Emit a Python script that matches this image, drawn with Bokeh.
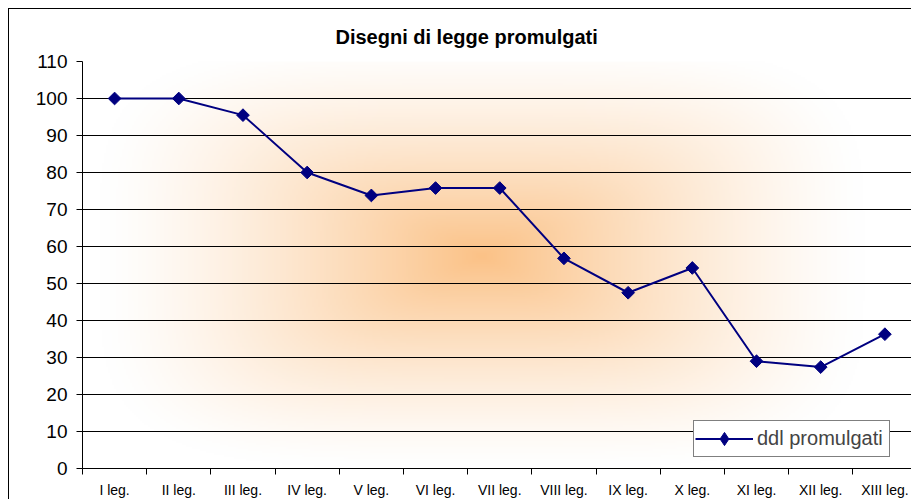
import numpy as np
from bokeh.plotting import figure
from bokeh.models import FixedTicker, Range1d, Legend, LegendItem, Title
from bokeh.embed import file_html
from bokeh.resources import INLINE

categories = ["I leg.", "II leg.", "III leg.", "IV leg.", "V leg.", "VI leg.", "VII leg.",
              "VIII leg.", "IX leg.", "X leg.", "XI leg.", "XII leg.", "XIII leg."]
ddl_promulgati = [100, 100, 95.5, 80, 73.8, 75.8, 75.8, 56.8, 47.5, 54.2, 29, 27.4, 36.3]
y_ticks = list(range(0, 111, 10))

xs = list(range(len(categories)))

p = figure(width=903, height=491, output_backend="svg", toolbar_location=None,
           x_range=Range1d(-0.5, 12.43), y_range=Range1d(0, 110),
           min_border_left=73, min_border_top=52, min_border_bottom=31, min_border_right=0)
p.styles = {"border-left": "1px solid black", "border-top": "1px solid black",
            "box-sizing": "border-box", "margin-left": "8px", "margin-top": "8px"}
p.outline_line_color = None
p.background_fill_color = "white"
p.border_fill_color = "white"

# soft rounded-rectangle gradient background
H, W = 204, 415
yy, xx = np.mgrid[0:H, 0:W]
cx, cy = W * 0.48, H * 0.52
r = ((np.abs(xx - cx) / (W * 0.46)) ** 4 + (np.abs(yy - cy) / (H * 0.52)) ** 4) ** (1 / 4)
f = np.clip(1 - r, 0, 1) ** 1.3
orange = np.array([251, 194, 135])
rgb = 255 * (1 - f[..., None]) + orange * f[..., None]
img = np.zeros((H, W, 4), dtype=np.uint8)
img[..., :3] = rgb.astype(np.uint8)
img[..., 3] = 255
p.image_rgba(image=[img.view(np.uint32).reshape(H, W)], x=-0.5, y=0, dw=12.93, dh=110, level="image")

line = p.line(xs, ddl_promulgati, line_color="#000080", line_width=2)
pts = p.scatter(xs, ddl_promulgati, marker="square", angle=np.pi / 4, size=9,
                fill_color="#000080", line_color="#000080")
# diamond used only for the legend swatch
legend_pts = p.scatter(xs, ddl_promulgati, marker="diamond", size=13,
                       fill_color="#000080", line_color="#000080", visible=False)

p.title = Title(text="Disegni di legge promulgati", align="left", offset=253,
                text_font="Liberation Sans", text_font_size="20px", text_font_style="bold",
                text_color="black", standoff=27)

# axes
p.xaxis.ticker = FixedTicker(ticks=xs, minor_ticks=[i + 0.5 for i in range(-1, 13)])
p.xaxis.major_label_overrides = {i: c for i, c in enumerate(categories)}
p.xaxis.major_tick_out = 0
p.xaxis.major_tick_in = 0
p.xaxis.minor_tick_out = 6
p.xaxis.minor_tick_in = 0
p.xaxis.minor_tick_line_color = "black"
p.xaxis.axis_line_color = "black"
p.xaxis.major_label_text_font = "Liberation Sans"
p.xaxis.major_label_text_font_size = "14px"
p.xaxis.major_label_text_color = "black"
p.xaxis.major_label_standoff = 7

p.yaxis.ticker = FixedTicker(ticks=y_ticks)
p.yaxis.major_tick_out = 6
p.yaxis.major_tick_in = 0
p.yaxis.minor_tick_out = 0
p.yaxis.minor_tick_in = 0
p.yaxis.axis_line_color = "black"
p.yaxis.major_tick_line_color = "black"
p.yaxis.major_label_text_font = "Liberation Sans"
p.yaxis.major_label_text_font_size = "19px"
p.yaxis.major_label_text_color = "black"
p.yaxis.major_label_standoff = 9

p.xgrid.grid_line_color = None
p.ygrid.ticker = FixedTicker(ticks=y_ticks[1:])
p.ygrid.grid_line_color = "black"
p.ygrid.grid_line_width = 1

legend = Legend(items=[LegendItem(label="ddl promulgati", renderers=[line, legend_pts])],
                location=(611, 11), glyph_width=58, glyph_height=33, label_standoff=4,
                label_width=131, padding=1, margin=0, spacing=0, click_policy="none",
                inactive_fill_alpha=0,
                label_text_font="Liberation Sans", label_text_font_size="20px",
                border_line_color="black", border_line_width=1,
                background_fill_color="white", background_fill_alpha=1)
p.add_layout(legend, "center")

open("out.html", "w").write(file_html(p, INLINE))
